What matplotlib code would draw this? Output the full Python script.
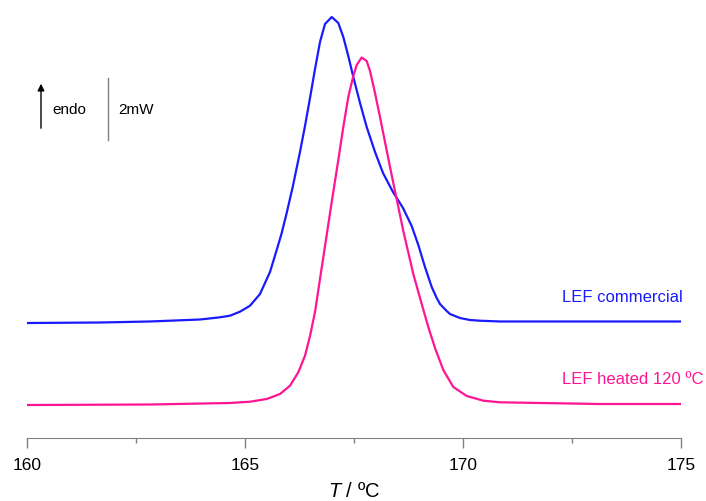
import numpy as np
import matplotlib
matplotlib.use('Agg')
import matplotlib.pyplot as plt

plt.rcParams['font.family'] = ['Liberation Sans', 'DejaVu Sans']
plt.rcParams['mathtext.fontset'] = 'custom'
plt.rcParams['mathtext.it'] = 'Liberation Sans:italic'
plt.rcParams['mathtext.rm'] = 'Liberation Sans'

# Datos (T en ºC, flujo de calor en mW, relativo)
T_com = [160.000, 161.674, 162.821, 163.968, 164.427, 164.656, 164.885, 165.115,
         165.344, 165.573, 165.727, 165.842, 165.956, 166.094, 166.261, 166.376,
         166.491, 166.606, 166.720, 166.835, 166.989, 167.140, 167.255, 167.369,
         167.484, 167.638, 167.791, 167.982, 168.165, 168.394, 168.624, 168.823,
         168.975, 169.128, 169.282, 169.397, 169.472, 169.626, 169.702, 169.931,
         170.161, 170.390, 170.849, 173.142, 175.000]
q_com = [2.645, 2.661, 2.694, 2.758, 2.829, 2.881, 3.010, 3.203,
         3.581, 4.290, 5.000, 5.548, 6.194, 7.032, 8.161, 9.000,
         9.903, 10.839, 11.710, 12.290, 12.516, 12.323, 11.871, 11.258,
         10.581, 9.742, 8.968, 8.161, 7.484, 6.871, 6.355, 5.774,
         5.161, 4.452, 3.806, 3.452, 3.258, 3.032, 2.935, 2.806,
         2.742, 2.719, 2.694, 2.694, 2.694]

T_hot = [160.000, 162.821, 164.656, 165.115, 165.498, 165.803, 166.032, 166.222,
         166.376, 166.491, 166.606, 166.720, 166.874, 166.989, 167.140, 167.255,
         167.369, 167.484, 167.562, 167.677, 167.791, 167.867, 167.982, 168.096,
         168.211, 168.326, 168.440, 168.631, 168.860, 169.053, 169.204, 169.358,
         169.548, 169.778, 170.085, 170.466, 170.849, 173.142, 175.000]
q_hot = [0.000, 0.016, 0.065, 0.106, 0.194, 0.355, 0.623, 1.054,
         1.590, 2.226, 3.000, 4.065, 5.484, 6.548, 7.903, 8.968,
         9.935, 10.613, 10.968, 11.210, 11.097, 10.774, 10.065, 9.290,
         8.484, 7.677, 6.903, 5.613, 4.226, 3.258, 2.516, 1.839,
         1.129, 0.581, 0.290, 0.139, 0.087, 0.032, 0.032]

azul = '#1a1aff'
rosa = '#ff1493'
W, H = 706, 502

fig = plt.figure(figsize=(W/100, H/100), dpi=100)
ax = fig.add_axes([27/W, 63/H, 654/W, (439-10)/H])

ax.plot(T_com, q_com, '-', color=azul, lw=1.6, solid_joinstyle='round')
ax.plot(T_hot, q_hot, '-', color=rosa, lw=1.6, solid_joinstyle='round')

# Limites y ticks
ax.set_xlim(160, 175)
ax.set_ylim((406-439)/31, (406-10)/31)
ax.set_xticks([160, 165, 170, 175])
ax.set_xticks([162.5, 167.5, 172.5], minor=True)
ax.tick_params(axis='x', which='major', direction='out', length=7.5, width=1,
               color='#808080', labelsize=12.5, pad=6)
ax.tick_params(axis='x', which='minor', direction='out', length=3.5, width=1,
               color='#808080')
ax.set_yticks([])
for s in ['left', 'right', 'top']:
    ax.spines[s].set_visible(False)
ax.spines['bottom'].set_color('#808080')

fig.text(354/W, 1-492/H, '$T$ / ºC', ha='center', va='center', fontsize=14.5)

# Etiquetas de las curvas
fig.text(683/W, 1-297/H, 'LEF commercial', ha='right', va='center',
         fontsize=12, color=azul)
fig.text(704/W, 1-380/H, 'LEF heated 120 ºC', ha='right', va='center',
         fontsize=12, color=rosa)

# Flecha endo y barra de escala (coordenadas en pixeles)
ax_annot = fig.add_axes([0, 0, 1, 1], facecolor='none')
ax_annot.set_xlim(0, W)
ax_annot.set_ylim(H, 0)
ax_annot.axis('off')
ax_annot.annotate('', xy=(41, 82), xytext=(41, 132),
                  arrowprops=dict(arrowstyle='-|>', color='black', lw=1,
                                  mutation_scale=10))
ax_annot.plot([108, 108], [79, 141], color='#808080', lw=1)
ax_annot.text(52, 110, 'endo', ha='left', va='center', fontsize=11)
ax_annot.text(118, 110, '2mW', ha='left', va='center', fontsize=11)

fig.savefig('out.png', dpi=100)
